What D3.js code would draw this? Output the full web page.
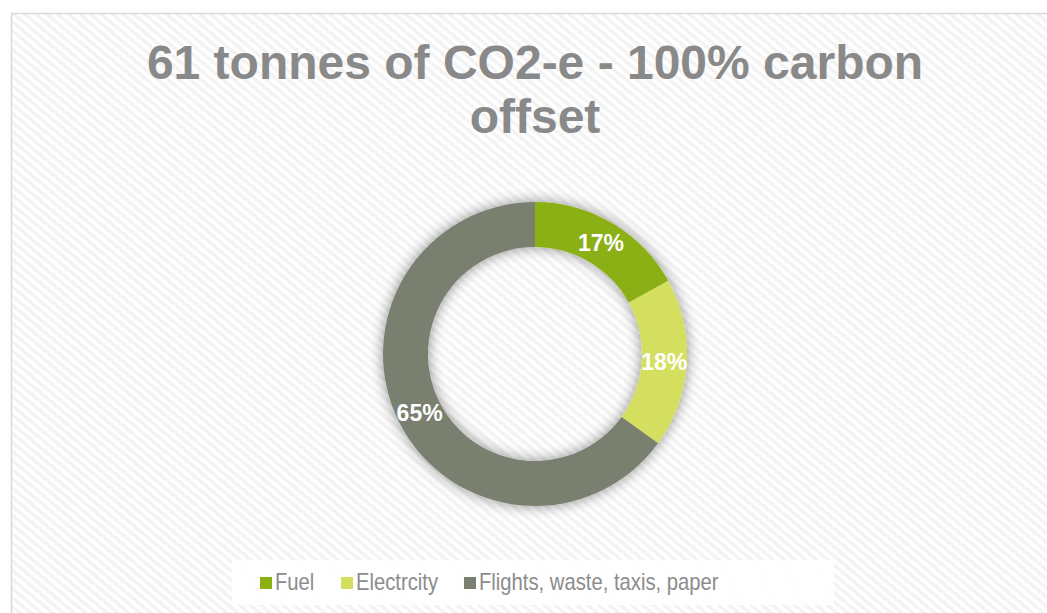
<!DOCTYPE html>
<html>
<head>
<meta charset="utf-8">
<script src="https://cdn.jsdelivr.net/npm/d3@7"></script>
<style>
  body { margin: 0; background: #fff; }
  svg { display: block; font-family: "Liberation Sans", Arial, sans-serif; }
</style>
</head>
<body>
<svg id="chart" width="1047" height="613"></svg>
<script>
var categories = ["Fuel", "Electrcity", "Flights, waste, taxis, paper"];
var values = [17, 18, 65];
var colors = ["#8bb012", "#d4df5f", "#7a8070"];
var titleLines = ["61 tonnes of CO2-e - 100% carbon", "offset"];

var svg = d3.select("#chart");
var defs = svg.append("defs");

// diagonal hatch like the office "light diagonal" fill
var pat = defs.append("pattern")
    .attr("id", "hatch")
    .attr("width", 7).attr("height", 7)
    .attr("patternUnits", "userSpaceOnUse")
    .attr("patternTransform", "rotate(40)");
pat.append("rect").attr("width", 7).attr("height", 7).attr("fill", "#ffffff");
pat.append("rect").attr("width", 7).attr("height", 3.5).attr("fill", "#f3f3f3");

var shadow = defs.append("filter").attr("id", "shadow")
    .attr("x", "-20%").attr("y", "-20%").attr("width", "140%").attr("height", "140%");
shadow.append("feGaussianBlur").attr("in", "SourceAlpha").attr("stdDeviation", 7).attr("result", "b");
shadow.append("feComponentTransfer").attr("in", "b").attr("result", "s")
    .append("feFuncA").attr("type", "linear").attr("slope", 0.45);
var merge = shadow.append("feMerge");
merge.append("feMergeNode").attr("in", "s");
merge.append("feMergeNode").attr("in", "SourceGraphic");

// chart area
svg.append("rect")
    .attr("x", 11.5).attr("y", 13.5)
    .attr("width", 1060).attr("height", 620)
    .attr("fill", "url(#hatch)")
    .attr("stroke", "#d9d9d9").attr("stroke-width", 1.5);

// title
svg.append("g").selectAll("text")
    .data(titleLines)
    .join("text")
    .attr("x", 535)
    .attr("y", function(d, i) { return 79 + i * 54; })
    .attr("text-anchor", "middle")
    .attr("font-size", 48)
    .attr("font-weight", "bold")
    .attr("fill", "#898989")
    .text(function(d) { return d; });

var cx = 535, cy = 354, outerR = 152, innerR = 107;

var pie = d3.pie().sort(null).value(function(d) { return d; });
var arc = d3.arc().innerRadius(innerR).outerRadius(outerR);
var arcs = pie(values);

var g = svg.append("g").attr("transform", "translate(" + cx + "," + cy + ")");

g.append("g").attr("filter", "url(#shadow)")
    .selectAll("path")
    .data(arcs)
    .join("path")
    .attr("d", arc)
    .attr("fill", function(d, i) { return colors[i]; });

var total = d3.sum(values);
g.selectAll("text.lbl")
    .data(arcs)
    .join("text")
    .attr("class", "lbl")
    .attr("transform", function(d) { return "translate(" + arc.centroid(d) + ")"; })
    .attr("text-anchor", "middle")
    .attr("dy", "0.36em")
    .attr("font-size", 23)
    .attr("font-weight", "bold")
    .attr("fill", "#ffffff")
    .text(function(d) { return Math.round(d.value / total * 100) + "%"; });

// legend
svg.append("rect")
    .attr("x", 232).attr("y", 560)
    .attr("width", 602).attr("height", 45)
    .attr("fill", "#ffffff").attr("opacity", 0.9);

var legX = [260, 341, 464];
var leg = svg.append("g").selectAll("g")
    .data(categories)
    .join("g")
    .attr("transform", function(d, i) { return "translate(" + legX[i] + ",577)"; });
leg.append("rect")
    .attr("width", 12).attr("height", 12)
    .attr("fill", function(d, i) { return colors[i]; });
leg.append("text")
    .attr("transform", "translate(15,13) scale(0.88,1)")
    .attr("font-size", 23)
    .attr("fill", "#8c8c8c")
    .text(function(d) { return d; });
</script>
</body>
</html>
